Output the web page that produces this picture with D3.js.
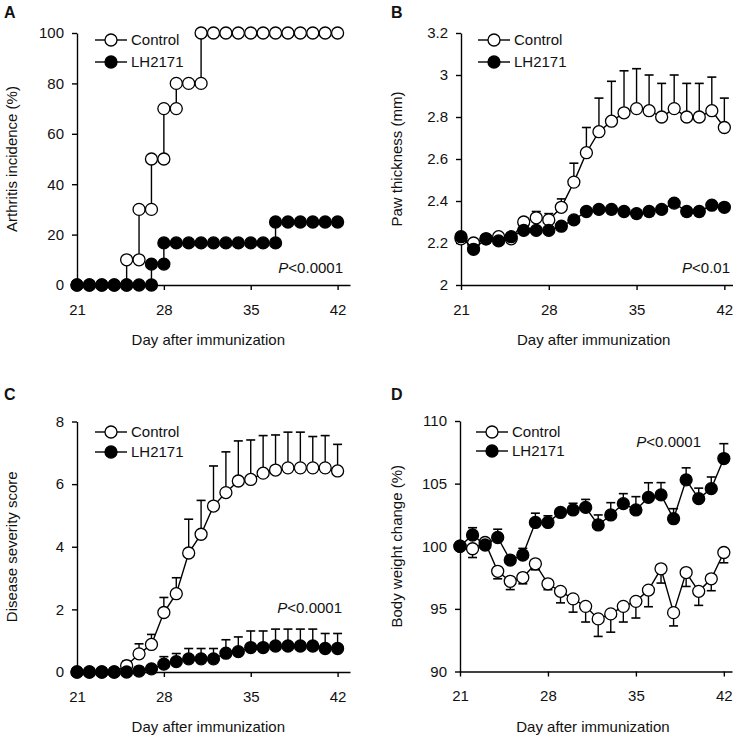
<!DOCTYPE html>
<html>
<head>
<meta charset="utf-8">
<script src="https://cdn.jsdelivr.net/npm/d3@7/dist/d3.min.js"></script>
<style>
  html, body { margin: 0; padding: 0; background: #fff; }
  svg { display: block; }
  text { font-family: "Liberation Sans", Arial, sans-serif; fill: #111; }
</style>
</head>
<body>
<svg id="chart" width="741" height="741"></svg>
<script>
// ---------------- DATA ----------------
const dayTicks = [21, 28, 35, 42];
const days = [21, 22, 23, 24, 25, 26, 27, 28, 29, 30, 31, 32, 33, 34, 35, 36, 37, 38, 39, 40, 41, 42];
const seriesNames = ["Control", "LH2171"];

// Panel A: arthritis incidence (%), staircase (vertices at each step)
const incidenceDaysControl = [21, 22, 23, 24, 25, 25, 26, 26, 27, 27, 28, 28, 29, 29, 30, 31, 31, 32, 33, 34, 35, 36, 37, 38, 39, 40, 41, 42];
const incidenceControl = [0, 0, 0, 0, 0, 10, 10, 30, 30, 50, 50, 70, 70, 80, 80, 80, 100, 100, 100, 100, 100, 100, 100, 100, 100, 100, 100, 100];
const incidenceDaysLH = [21, 22, 23, 24, 25, 26, 27, 27, 28, 28, 29, 30, 31, 32, 33, 34, 35, 36, 37, 37, 38, 39, 40, 41, 42];
const incidenceLH = [0, 0, 0, 0, 0, 0, 0, 8.3, 8.3, 16.7, 16.7, 16.7, 16.7, 16.7, 16.7, 16.7, 16.7, 16.7, 16.7, 25, 25, 25, 25, 25, 25];
const incidenceTicks = [0, 20, 40, 60, 80, 100];

// Panel B: paw thickness (mm)
const pawControl = [2.22, 2.20, 2.22, 2.23, 2.22, 2.30, 2.32, 2.31, 2.37, 2.49, 2.63, 2.73, 2.78, 2.82, 2.84, 2.83, 2.80, 2.84, 2.80, 2.80, 2.83, 2.75];
const pawControlSE = [0.01, 0.01, 0.01, 0.01, 0.01, 0.02, 0.03, 0.03, 0.04, 0.09, 0.12, 0.16, 0.19, 0.20, 0.19, 0.17, 0.16, 0.16, 0.16, 0.16, 0.16, 0.14];
const pawLH = [2.23, 2.17, 2.22, 2.21, 2.23, 2.26, 2.26, 2.26, 2.28, 2.31, 2.35, 2.36, 2.36, 2.35, 2.34, 2.35, 2.36, 2.39, 2.35, 2.35, 2.38, 2.37];
const pawLHSE = [0.01, 0.01, 0.01, 0.01, 0.01, 0.01, 0.01, 0.01, 0.01, 0.01, 0.01, 0.01, 0.02, 0.01, 0.02, 0.02, 0.01, 0.02, 0.02, 0.02, 0.01, 0.01];
const pawTicks = [2, 2.2, 2.4, 2.6, 2.8, 3, 3.2];

// Panel C: disease severity score
const scoreControl = [0, 0, 0, 0, 0.2, 0.58, 0.88, 1.9, 2.5, 3.8, 4.4, 5.3, 5.73, 6.1, 6.15, 6.35, 6.45, 6.52, 6.52, 6.52, 6.52, 6.42];
const scoreControlSE = [0, 0, 0, 0, 0.15, 0.32, 0.32, 0.48, 0.51, 1.08, 1.08, 1.28, 1.3, 1.28, 1.26, 1.2, 1.12, 1.14, 1.14, 1.0, 1.03, 0.85];
const scoreLH = [0, 0, 0, 0, 0, 0.03, 0.1, 0.25, 0.33, 0.42, 0.42, 0.42, 0.6, 0.65, 0.78, 0.78, 0.83, 0.83, 0.83, 0.83, 0.75, 0.75];
const scoreLHSE = [0, 0, 0, 0, 0, 0.04, 0.1, 0.24, 0.26, 0.33, 0.33, 0.33, 0.43, 0.47, 0.53, 0.53, 0.54, 0.54, 0.54, 0.54, 0.48, 0.48];
const scoreTicks = [0, 2, 4, 6, 8];

// Panel D: body weight change (%)
const weightControl = [100, 99.8, 100.3, 98.0, 97.2, 97.5, 98.6, 97.0, 96.4, 95.8, 95.2, 94.2, 94.6, 95.2, 95.6, 96.5, 98.2, 94.7, 97.9, 96.4, 97.4, 99.5];
const weightControlSE = [0, 0.7, 0.2, 0.6, 0.66, 0.5, 0.48, 0.47, 0.92, 1.06, 1.25, 1.4, 1.46, 1.25, 1.33, 1.33, 1.14, 1.06, 1.11, 1.12, 0.95, 0.82];
const weightLH = [100, 100.9, 100.1, 100.7, 98.9, 99.3, 101.9, 101.9, 102.7, 102.9, 103.1, 101.7, 102.5, 103.4, 102.9, 103.9, 104.1, 102.2, 105.3, 103.8, 104.6, 107.0];
const weightLHSE = [0, 0.58, 0.2, 0.66, 0.2, 0.53, 0.74, 0.53, 0.3, 0.53, 0.64, 0.8, 0.98, 0.8, 1.06, 1.17, 0.98, 0.8, 0.96, 0.84, 0.93, 1.19];
const weightTicks = [90, 95, 100, 105, 110];

// ---------------- DRAWING ----------------
const svg = d3.select("#chart");
const FONT = 15;
const R = 6;

function zip(xs, ys, es) {
  return xs.map((d, i) => ({ day: d, v: ys[i], e: es ? es[i] : 0 }));
}

function drawPanel(cfg) {
  const x = d3.scaleLinear().domain(cfg.xDomain).range([cfg.left, cfg.right]);
  const y = d3.scaleLinear().domain(cfg.yDomain).range([cfg.bottom, cfg.top]);
  const g = svg.append("g");

  // axes
  const xAxis = g.append("g")
    .attr("transform", `translate(0,${cfg.bottom})`)
    .call(d3.axisBottom(x).tickValues(dayTicks).tickSize(5).tickSizeOuter(0).tickPadding(14).tickFormat(d3.format("d")));
  const yAxis = g.append("g")
    .attr("transform", `translate(${cfg.left},0)`)
    .call(d3.axisLeft(y).tickValues(cfg.yTicks).tickSize(5).tickSizeOuter(0).tickPadding(8).tickFormat(d => String(+d.toFixed(1))));
  [xAxis, yAxis].forEach(a => {
    a.select(".domain").attr("stroke", "#000").attr("stroke-width", 1.4);
    a.selectAll(".tick line").attr("stroke", "#000").attr("stroke-width", 1.4);
    a.selectAll(".tick text").attr("font-size", FONT).attr("font-family", "Liberation Sans, Arial, sans-serif").attr("fill", "#111");
  });

  // axis titles
  g.append("text")
    .attr("x", (cfg.left + x(42)) / 2 + 1)
    .attr("y", cfg.bottom + 60)
    .attr("text-anchor", "middle")
    .attr("font-size", FONT)
    .text("Day after immunization");
  g.append("text")
    .attr("transform", `translate(${cfg.yTitleX},${(cfg.top + cfg.bottom) / 2}) rotate(-90)`)
    .attr("text-anchor", "middle")
    .attr("font-size", FONT)
    .text(cfg.yTitle);

  // panel letter
  g.append("text")
    .attr("x", cfg.letterX).attr("y", cfg.letterY)
    .attr("font-size", 16).attr("font-weight", "bold")
    .text(cfg.letter);

  // series
  cfg.series.forEach(s => {
    const pts = s.data;
    const sg = g.append("g");
    // error bars
    const eb = pts.filter(p => p.e > 0);
    sg.selectAll("line.err").data(eb).join("line")
      .attr("x1", p => x(p.day)).attr("x2", p => x(p.day))
      .attr("y1", p => y(p.v)).attr("y2", p => y(p.v + s.dir * p.e))
      .attr("stroke", "#000").attr("stroke-width", 1.4);
    sg.selectAll("line.cap").data(eb).join("line")
      .attr("x1", p => x(p.day) - 4.5).attr("x2", p => x(p.day) + 4.5)
      .attr("y1", p => y(p.v + s.dir * p.e)).attr("y2", p => y(p.v + s.dir * p.e))
      .attr("stroke", "#000").attr("stroke-width", 1.6);
    // line
    sg.append("path").datum(pts)
      .attr("d", d3.line().x(p => x(p.day)).y(p => y(p.v)))
      .attr("fill", "none").attr("stroke", "#000").attr("stroke-width", 1.4);
    // markers
    sg.selectAll("circle").data(pts).join("circle")
      .attr("cx", p => x(p.day)).attr("cy", p => y(p.v)).attr("r", R)
      .attr("fill", s.filled ? "#000" : "#fff")
      .attr("stroke", "#000").attr("stroke-width", 1.3);
  });

  // legend
  seriesNames.forEach((name, i) => {
    const ly = cfg.legendY + i * cfg.legendGap;
    const lg = g.append("g");
    lg.append("line").attr("x1", cfg.legendX).attr("x2", cfg.legendX + 32)
      .attr("y1", ly).attr("y2", ly).attr("stroke", "#000").attr("stroke-width", 1.4);
    lg.append("circle").attr("cx", cfg.legendX + 16).attr("cy", ly).attr("r", R)
      .attr("fill", i === 0 ? "#fff" : "#000").attr("stroke", "#000").attr("stroke-width", 1.3);
    lg.append("text").attr("x", cfg.legendX + 36).attr("y", ly).attr("dy", "0.36em")
      .attr("font-size", FONT).text(name);
  });

  // p value
  const pt = g.append("text").attr("x", cfg.pX).attr("y", cfg.pY)
    .attr("text-anchor", "end").attr("font-size", FONT);
  pt.append("tspan").attr("font-style", "italic").text("P");
  pt.append("tspan").text(cfg.pText);
}

drawPanel({
  letter: "A", letterX: 4, letterY: 18,
  left: 77, right: 350, top: 33, bottom: 285, xDomain: [21, 43],
  yDomain: [0, 100], yTicks: incidenceTicks, yTitle: "Arthritis incidence (%)", yTitleX: 17,
  series: [
    { data: zip(incidenceDaysControl, incidenceControl), filled: false, dir: 1 },
    { data: zip(incidenceDaysLH, incidenceLH), filled: true, dir: 1 }
  ],
  legendX: 95, legendY: 40, legendGap: 22,
  pX: 343, pY: 273, pText: "<0.0001"
});

drawPanel({
  letter: "B", letterX: 391, letterY: 18,
  left: 461, right: 732.5, top: 33, bottom: 285, xDomain: [21, 42.65],
  yDomain: [2, 3.2], yTicks: pawTicks, yTitle: "Paw thickness (mm)", yTitleX: 402,
  series: [
    { data: zip(days, pawControl, pawControlSE), filled: false, dir: 1 },
    { data: zip(days, pawLH, pawLHSE), filled: true, dir: -1 }
  ],
  legendX: 478, legendY: 40, legendGap: 22,
  pX: 730, pY: 273, pText: "<0.01"
});

drawPanel({
  letter: "C", letterX: 4, letterY: 400,
  left: 77, right: 350, top: 421.5, bottom: 672, xDomain: [21, 43],
  yDomain: [0, 8], yTicks: scoreTicks, yTitle: "Disease severity score", yTitleX: 17,
  series: [
    { data: zip(days, scoreControl, scoreControlSE), filled: false, dir: 1 },
    { data: zip(days, scoreLH, scoreLHSE), filled: true, dir: 1 }
  ],
  legendX: 95, legendY: 432, legendGap: 20,
  pX: 342, pY: 613, pText: "<0.0001"
});

drawPanel({
  letter: "D", letterX: 391, letterY: 400,
  left: 460, right: 732, top: 421, bottom: 671.5, xDomain: [21, 42.65],
  yDomain: [90, 110], yTicks: weightTicks, yTitle: "Body weight change (%)", yTitleX: 402,
  series: [
    { data: zip(days, weightControl, weightControlSE), filled: false, dir: -1 },
    { data: zip(days, weightLH, weightLHSE), filled: true, dir: 1 }
  ],
  legendX: 476, legendY: 432, legendGap: 19,
  pX: 701, pY: 447, pText: "<0.0001"
});
</script>
</body>
</html>
